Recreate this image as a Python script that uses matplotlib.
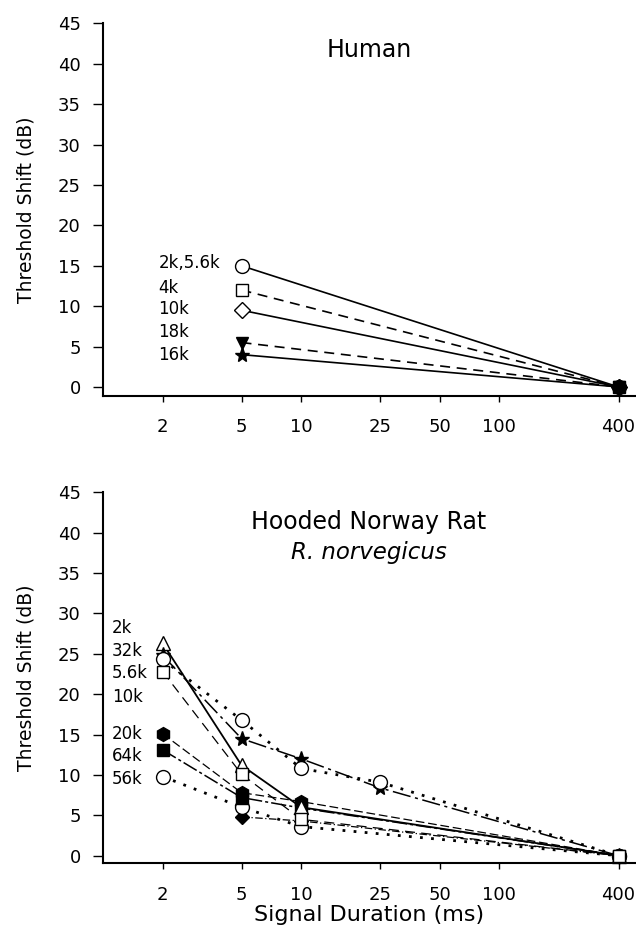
import matplotlib
matplotlib.use('Agg')
import matplotlib.pyplot as plt

plt.rcParams['font.family'] = ['DejaVu Sans']

# ---- Human panel data ----
human_x = [5, 400]
human_labels = ['2k,5.6k', '4k', '10k', '18k', '16k']
human_y = {
    '2k,5.6k': [15.0, 0.0],
    '4k': [12.0, 0.0],
    '10k': [9.5, 0.0],
    '18k': [5.5, 0.0],
    '16k': [4.0, 0.0],
}
human_label_y = [15.3, 12.3, 9.6, 6.8, 3.9]

# ---- Rat panel data ----
rat_x = {
    '2k': [2, 5, 10, 400],
    '32k': [2, 5, 10, 25, 400],
    '5.6k': [2, 5, 10, 25, 400],
    '10k': [2, 5, 10, 400],
    '20k': [2, 5, 10, 400],
    '64k': [2, 5, 10, 400],
    '56k': [2, 5, 10, 400],
    'diamond': [5, 10, 400],
}
rat_y = {
    '2k': [26.3, 11.2, 6.0, 0.0],
    '32k': [24.8, 14.5, 12.0, 8.4, 0.0],
    '5.6k': [24.3, 16.8, 10.8, 9.1, 0.0],
    '10k': [22.8, 10.1, 4.5, 0.0],
    '20k': [15.1, 7.8, 6.7, 0.0],
    '64k': [13.1, 7.2, 5.9, 0.0],
    '56k': [9.8, 6.0, 3.6, 0.0],
    'diamond': [4.8, 4.3, 0.0],
}
rat_labels = ['2k', '32k', '5.6k', '10k', '20k', '64k', '56k']
rat_label_y = [28.2, 25.4, 22.6, 19.7, 15.1, 12.3, 9.5]

xticks = [2, 5, 10, 25, 50, 100, 400]
yticks = list(range(0, 50, 5))

fig = plt.figure(figsize=(6.36, 9.38), dpi=100)
ax1 = fig.add_axes([0.162, 0.578, 0.838, 0.397])
ax2 = fig.add_axes([0.162, 0.0796, 0.838, 0.3955])


def style_axis(ax, ybottom):
    ax.set_xscale('log')
    ax.set_xlim(1, 490)
    ax.set_ylim(ybottom, 45)
    ax.set_xticks(xticks)
    ax.set_xticklabels([str(t) for t in xticks])
    ax.minorticks_off()
    ax.set_yticks(yticks)
    for s in ['top', 'right']:
        ax.spines[s].set_visible(False)
    for s in ['left', 'bottom']:
        ax.spines[s].set_linewidth(1.5)
    ax.tick_params(axis='y', direction='out', length=7, width=1, pad=9, labelsize=13)
    ax.tick_params(axis='x', direction='out', length=4, width=1, pad=12, labelsize=13)
    ax.set_ylabel('Threshold Shift (dB)', fontsize=13.5, labelpad=16)


style_axis(ax1, -1.1)
style_axis(ax2, -0.95)

# ---- Human ----
human_style = {
    '2k,5.6k': dict(marker='o', ls='-', mfc='white', ms=10),
    '4k': dict(marker='s', ls=(0, (6, 4)), mfc='white', ms=9),
    '10k': dict(marker='D', ls='-', mfc='white', ms=8),
    '18k': dict(marker='v', ls=(0, (6, 4)), mfc='black', ms=9),
    '16k': dict(marker='*', ls='-', mfc='black', ms=11),
}
for name in human_labels:
    st = human_style[name]
    ys = human_y[name]
    ax1.plot(human_x, ys, color='black', lw=1.2, ls=st['ls'], marker=st['marker'],
             ms=st['ms'], mfc=st['mfc'], mec='black', mew=1.0, markevery=[0],
             clip_on=False, zorder=3)
    ax1.plot(human_x[-1:], ys[-1:], ls='none', marker=st['marker'], ms=st['ms'],
             mfc='black', mec='black', clip_on=False, zorder=4)

for name, ly in zip(human_labels, human_label_y):
    ax1.text(1.9, ly, name, fontsize=12, ha='left', va='center')

ax1.text(22, 41.7, 'Human', fontsize=17, ha='center', va='center')

# ---- Rat ----
rat_style = {
    '2k': dict(marker='^', ls='-', mfc='white', ms=10, lw=1.3),
    '32k': dict(marker='*', ls=(0, (12, 3, 2, 3)), mfc='black', ms=11, lw=1.1),
    '5.6k': dict(marker='o', ls=(0, (1, 3)), mfc='white', ms=10, lw=2.0),
    '10k': dict(marker='s', ls=(0, (8, 5)), mfc='white', ms=9, lw=0.9),
    '20k': dict(marker='h', ls=(0, (7, 3)), mfc='black', ms=10, lw=0.9),
    '64k': dict(marker='s', ls=(0, (10, 2, 2, 2)), mfc='black', ms=9, lw=1.1),
    '56k': dict(marker='o', ls=(0, (1, 3)), mfc='white', ms=10, lw=2.0),
    'diamond': dict(marker='D', ls=(0, (6, 2, 1, 2)), mfc='black', ms=7, lw=0.9),
}
order = ['diamond', '56k', '20k', '64k', '2k', '32k', '5.6k', '10k']
for i, name in enumerate(order):
    st = rat_style[name]
    ax2.plot(rat_x[name], rat_y[name], color='black', lw=st['lw'], ls=st['ls'],
             marker=st['marker'], ms=st['ms'], mfc=st['mfc'], mec='black', mew=1.0,
             clip_on=False, zorder=3 + i)

for name, ly in zip(rat_labels, rat_label_y):
    ax2.text(1.11, ly, name, fontsize=12, ha='left', va='center')

ax2.text(22, 40.5, 'Hooded Norway Rat', fontsize=17, ha='center', va='baseline')
ax2.text(22, 36.8, 'R. norvegicus', fontsize=16.5, ha='center', va='baseline',
         style='italic')
ax2.set_xlabel('Signal Duration (ms)', fontsize=16, labelpad=1)

fig.savefig('out.png', dpi=100)
